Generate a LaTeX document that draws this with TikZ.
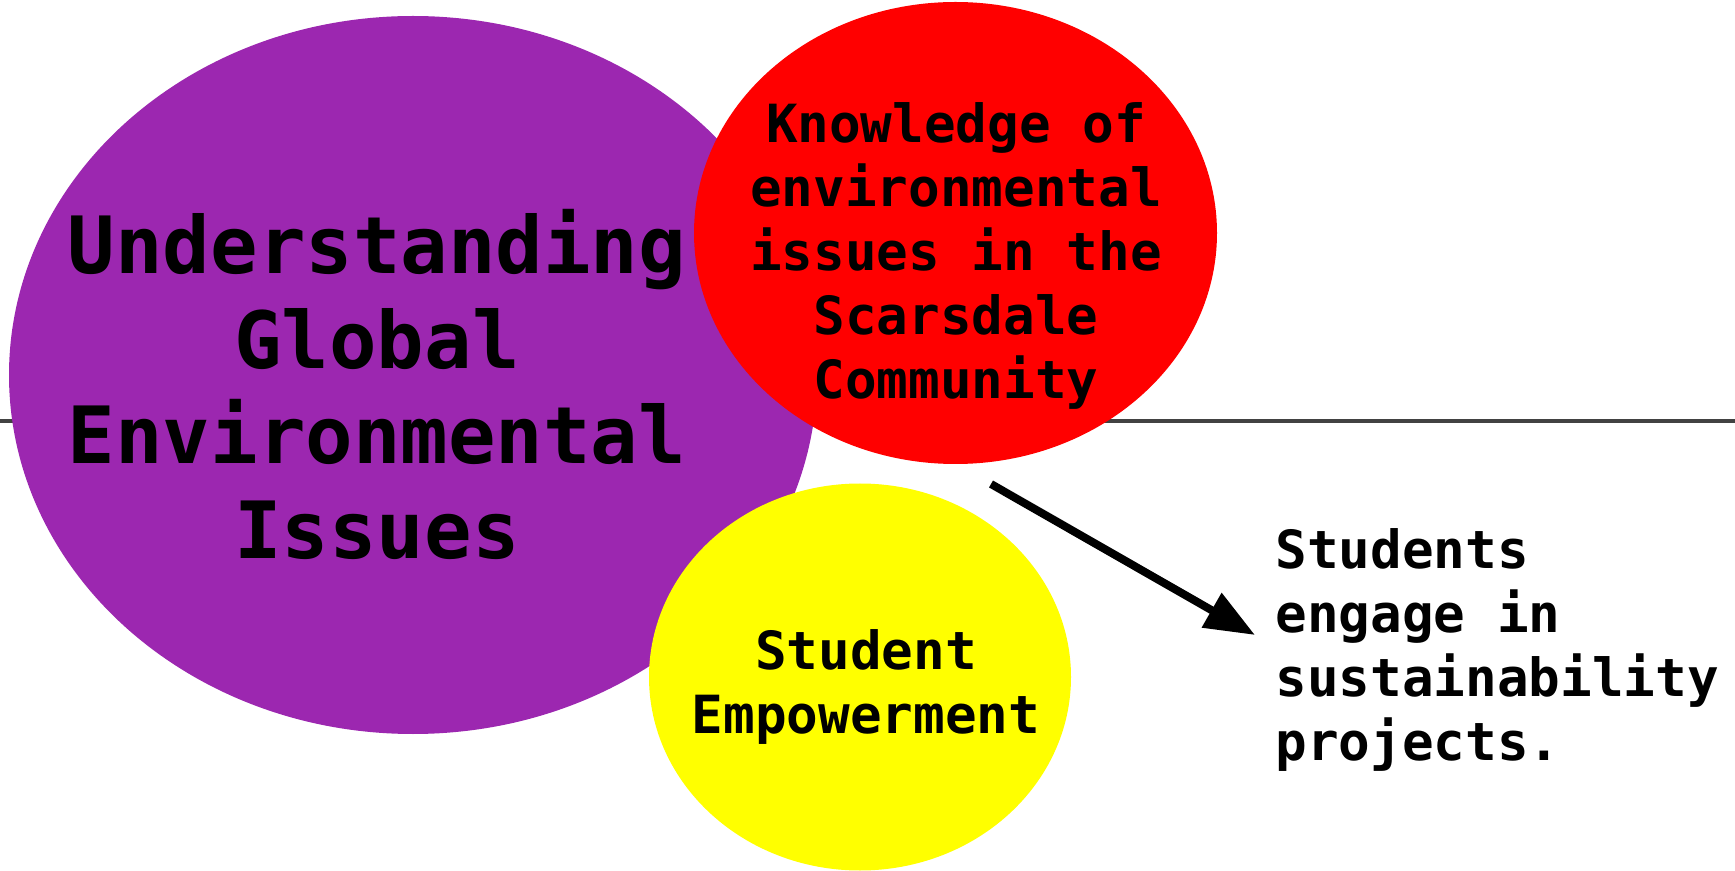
\documentclass[tikz,border=0pt]{standalone}
\usepackage{fontspec}
\setmonofont{DejaVu Sans Mono}
\usepackage{xcolor}
\usetikzlibrary{shapes.geometric,arrows.meta}

\definecolor{blobpurple}{RGB}{156,39,176}
\definecolor{blobred}{RGB}{255,0,0}
\definecolor{blobyellow}{RGB}{255,255,0}
\definecolor{rulegray}{RGB}{66,66,66}

\begin{document}
\begin{tikzpicture}[x=0.5pt,y=-0.5pt,
    blob/.style={ellipse,inner sep=0pt,outer sep=0pt},
    words/.style={align=center,inner sep=0pt,font={\ttfamily\bfseries\fontsize{26.3}{32}\selectfont}},
    bigwords/.style={align=center,inner sep=0pt,font={\ttfamily\bfseries\fontsize{39.5}{47.5}\selectfont}}]
\useasboundingbox (0,0) rectangle (1735,871);
\begin{scope}[>={Triangle[length=25pt,width=19pt]}]

    \coordinate (ruleleft) at (0,421);
    \coordinate (ruleright) at (1735,421);
    \draw[rulegray,line width=2pt] (ruleleft) -- (ruleright);

    \node[blob,fill=blobpurple,minimum width=404pt,minimum height=359pt] (global) at (413,375) {};
    \node[blob,fill=blobred,minimum width=261.5pt,minimum height=231pt] (local) at (955.5,233) {};
    \node[blob,fill=blobyellow,minimum width=211pt,minimum height=193.5pt] (empower) at (860,677) {};

    \node[bigwords] (globaltext) at (377,384) {Understanding\\Global\\Environmental\\Issues};
    \node[words] (localtext) at (956,256) {Knowledge of\\environmental\\issues in the\\Scarsdale\\Community};
    \node[words] (empowertext) at (866,687) {Student\\Empowerment};
    \node[words,align=left,anchor=west] (engage) at (1275,650) {Students\\engage in\\sustainability\\projects.};

    \coordinate (arrowstart) at (991,484);
    \coordinate (arrowtip) at (1255,635);
    \draw[->,line width=4pt] (arrowstart) -- (arrowtip);

\end{scope}
\end{tikzpicture}
\end{document}
